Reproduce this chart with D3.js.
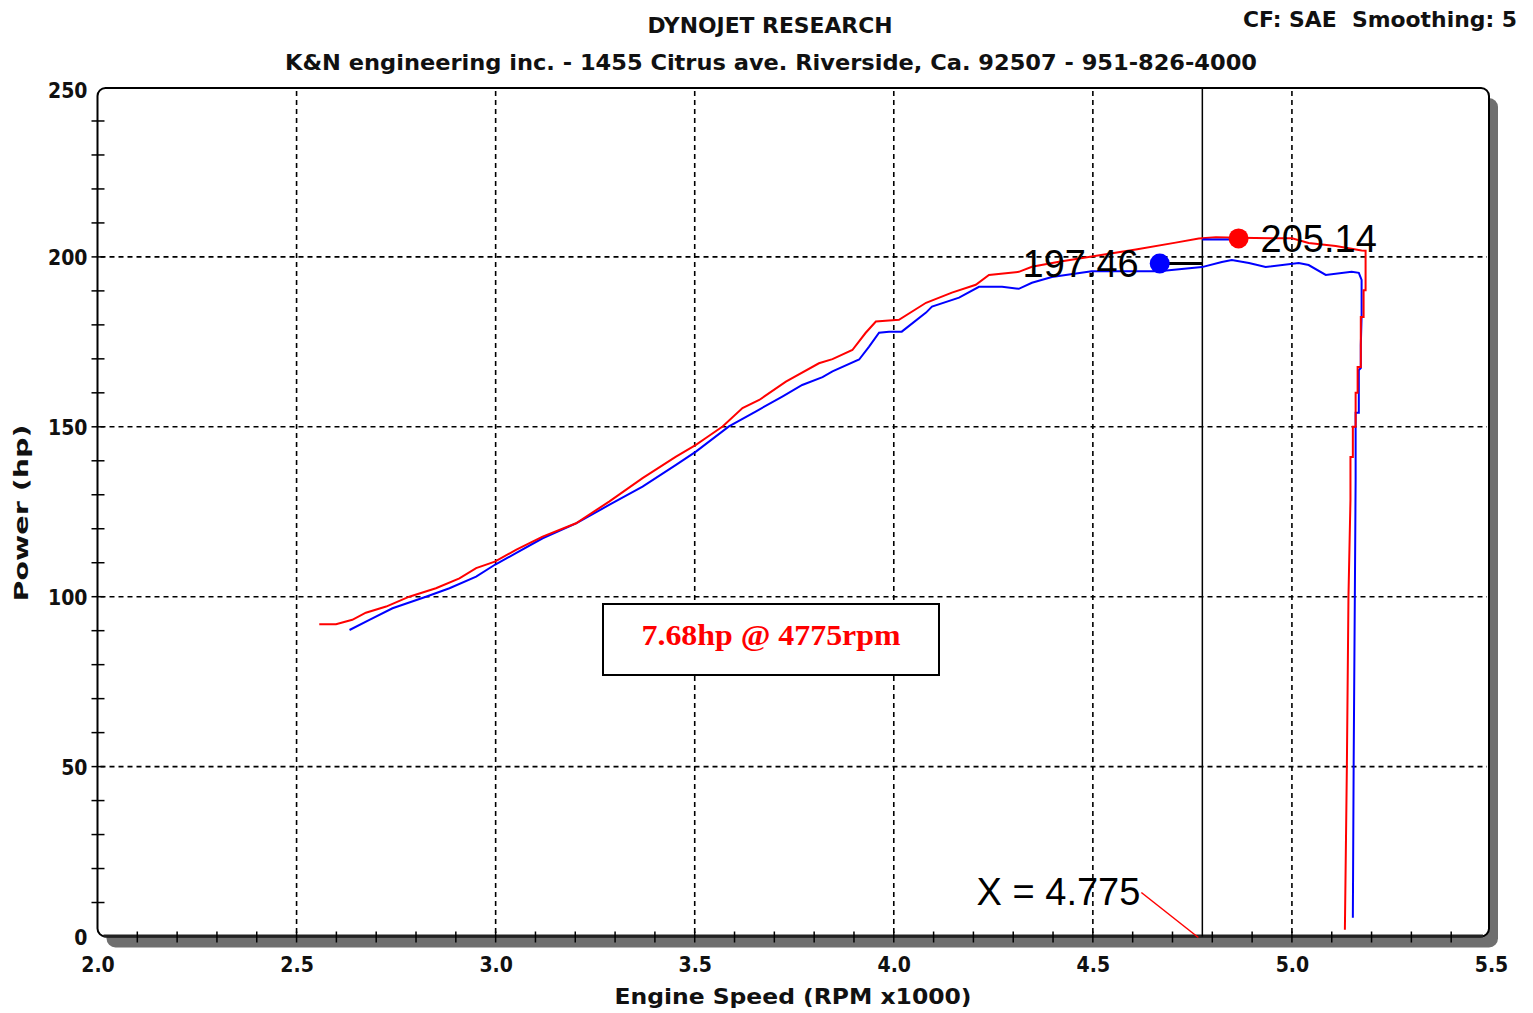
<!DOCTYPE html>
<html>
<head>
<meta charset="utf-8">
<script src="https://cdn.jsdelivr.net/npm/d3@7"></script>
<style>
  body { margin: 0; background: #fff; }
  svg { display: block; }
  .hdr { font-family: "DejaVu Sans Condensed", "DejaVu Sans", sans-serif; font-weight: bold; font-size: 21px; fill: #111; white-space: pre; }
  .tick text { font-family: "DejaVu Sans Condensed", "DejaVu Sans", sans-serif; font-weight: bold; font-size: 21px; fill: #111; }
  .peak { font-family: "Liberation Sans", Arial, sans-serif; font-size: 38px; fill: #000; }
</style>
</head>
<body>
<div id="chart"></div>
<script>
// dyno sheet: power (hp) vs engine speed, stock vs K&N intake

var rpmTicks = [2.0, 2.5, 3.0, 3.5, 4.0, 4.5, 5.0, 5.5];
var rpmTickLabels = ["2.0", "2.5", "3.0", "3.5", "4.0", "4.5", "5.0", "5.5"];
var hpTicks = [0, 50, 100, 150, 200, 250];
var hpTickLabels = ["0", "50", "100", "150", "200", "250"];

// red run (K&N)
var knRpm = [2.557, 2.599, 2.640, 2.674, 2.725, 2.783, 2.850, 2.909, 2.951, 2.998,
  3.051, 3.118, 3.202, 3.285, 3.369, 3.453, 3.503, 3.528, 3.570, 3.620,
  3.662, 3.729, 3.812, 3.846, 3.896, 3.929, 3.955, 3.988, 4.013, 4.081,
  4.146, 4.206, 4.239, 4.314, 4.347, 4.415, 4.497, 4.608, 4.708, 4.766,
  4.809, 4.866, 4.950, 5.000, 5.042, 5.110, 5.175, 5.185,
  5.185, 5.180, 5.180, 5.173, 5.173, 5.165, 5.165, 5.160, 5.160, 5.153,
  5.153, 5.147, 5.147, 5.142, 5.138, 5.133];
var knHp = [91.9, 91.9, 93.2, 95.3, 97.1, 100.0, 102.5, 105.4, 108.4, 110.3,
  113.8, 117.7, 121.6, 128.0, 134.9, 141.2, 144.7, 146.7, 150.1, 155.5,
  157.9, 163.3, 168.7, 169.9, 172.6, 177.6, 181.0, 181.3, 181.5, 186.5,
  189.5, 191.8, 194.7, 195.6, 197.1, 198.6, 200.1, 202.2, 204.2, 205.4,
  205.8, 205.6, 205.5, 205.5, 204.1, 203.2, 201.9, 201.8,
  190.2, 190.2, 182.3, 182.3, 167.6, 167.6, 160.0, 160.0, 150.0, 150.0,
  141.1, 141.1, 128.5, 100.0, 50.0, 2.0];

// blue run (stock)
var stockRpm = [2.633, 2.683, 2.741, 2.825, 2.884, 2.951, 2.998, 3.051, 3.118, 3.202,
  3.285, 3.369, 3.453, 3.503, 3.586, 3.653, 3.720, 3.770, 3.821, 3.846,
  3.913, 3.938, 3.963, 3.988, 4.020, 4.081, 4.096, 4.164, 4.214, 4.272,
  4.314, 4.347, 4.397, 4.497, 4.608, 4.666, 4.774, 4.824, 4.849, 4.892,
  4.934, 5.017, 5.042, 5.085, 5.150, 5.168, 5.175,
  5.175, 5.173, 5.173, 5.168, 5.168, 5.160, 5.160, 5.158, 5.155, 5.153];
var stockHp = [90.2, 93.2, 96.6, 100.0, 102.5, 105.9, 109.4, 112.8, 117.2, 121.6,
  127.0, 132.4, 138.8, 142.7, 150.1, 154.5, 158.9, 162.3, 164.6, 166.3,
  169.8, 173.6, 177.7, 178.0, 178.0, 183.6, 185.4, 188.0, 191.2, 191.2,
  190.6, 192.4, 194.1, 195.8, 195.8, 195.8, 197.0, 198.5, 199.1, 198.2,
  197.0, 198.2, 197.6, 194.7, 195.6, 195.3, 193.2,
  182.3, 174.1, 167.3, 166.7, 154.1, 154.1, 134.4, 100.0, 50.0, 5.5];

var peakLabels = ["205.14", "197.46"];
var peakRpm = [4.866, 4.668];
var peakHp = [205.14, 197.46];
var cursorRpm = 4.775;
var cursorLabel = "X = 4.775";
var gainLabel = "7.68hp @ 4775rpm";

var width = 1533, height = 1013;
var plotLeft = 97.5, plotRight = 1491, plotTop = 87, plotBottom = 936.5;

var x = d3.scaleLinear().domain([2.0, 5.5]).range([plotLeft, plotRight]);
var y = d3.scaleLinear().domain([0, 250]).range([plotBottom, plotTop]);

var svg = d3.select("#chart").append("svg")
  .attr("width", width)
  .attr("height", height);

// frame with drop shadow
svg.append("rect")
  .attr("x", plotLeft + 9)
  .attr("y", plotTop + 11)
  .attr("width", plotRight - plotLeft - 2)
  .attr("height", plotBottom - plotTop)
  .attr("rx", 9)
  .attr("fill", "#6f6f6f");

svg.append("rect")
  .attr("x", plotLeft)
  .attr("y", plotTop + 1)
  .attr("width", plotRight - plotLeft - 2)
  .attr("height", plotBottom - plotTop - 1)
  .attr("rx", 8)
  .attr("fill", "#fff")
  .attr("stroke", "#000")
  .attr("stroke-width", 2);

svg.append("line")
  .attr("x1", plotLeft + 6).attr("x2", plotRight - 8)
  .attr("y1", plotBottom - 0.5).attr("y2", plotBottom - 0.5)
  .attr("stroke", "#222")
  .attr("stroke-width", 3);

svg.append("clipPath")
  .attr("id", "plotClip")
.append("rect")
  .attr("x", plotLeft)
  .attr("y", plotTop)
  .attr("width", plotRight - plotLeft - 2)
  .attr("height", plotBottom - plotTop);

// dashed grid
var grid = svg.append("g")
  .attr("stroke", "#000")
  .attr("stroke-width", 1.6)
  .attr("stroke-dasharray", "5,4");

grid.selectAll(".vgrid")
  .data(rpmTicks.slice(1, -1))
  .enter()
  .append("line")
  .attr("class", "vgrid")
  .attr("x1", d => x(d)).attr("x2", d => x(d))
  .attr("y1", plotTop + 4).attr("y2", plotBottom - 2);

grid.selectAll(".hgrid")
  .data(hpTicks.slice(1, -1))
  .enter()
  .append("line")
  .attr("class", "hgrid")
  .attr("x1", plotLeft + 3).attr("x2", plotRight - 4)
  .attr("y1", d => y(d)).attr("y2", d => y(d));

// minor ticks on both axes
var minorX = d3.range(21, 55).map(d => d / 10);
var minorY = d3.range(10, 250, 10);

svg.append("g")
  .selectAll("line")
  .data(minorX)
  .enter()
  .append("line")
  .attr("x1", d => x(d)).attr("x2", d => x(d))
  .attr("y1", plotBottom - 5).attr("y2", plotBottom + 6)
  .attr("stroke", "#000")
  .attr("stroke-width", 1.5);

svg.append("g")
  .selectAll("line")
  .data(minorY)
  .enter()
  .append("line")
  .attr("x1", plotLeft - 6).attr("x2", plotLeft + 7)
  .attr("y1", d => y(d)).attr("y2", d => y(d))
  .attr("stroke", "#000")
  .attr("stroke-width", 1.5);

// tick labels through d3 axes
var xAxis = svg.append("g")
  .attr("transform", `translate(0, ${plotBottom})`)
  .call(d3.axisBottom(x)
    .tickValues(rpmTicks)
    .tickFormat((d, i) => rpmTickLabels[i])
    .tickSize(0)
    .tickPadding(21));
xAxis.select(".domain").remove();

var yAxis = svg.append("g")
  .attr("transform", `translate(${plotLeft}, 0)`)
  .call(d3.axisLeft(y)
    .tickValues(hpTicks)
    .tickFormat((d, i) => hpTickLabels[i])
    .tickSize(0)
    .tickPadding(10));
yAxis.select(".domain").remove();
yAxis.selectAll(".tick text").attr("dy", "0.38em");
yAxis.select(".tick:last-of-type text").attr("dy", "0.5em");

// cursor
svg.append("line")
  .attr("x1", x(cursorRpm)).attr("x2", x(cursorRpm))
  .attr("y1", plotTop + 1).attr("y2", plotBottom)
  .attr("stroke", "#000")
  .attr("stroke-width", 1.5);

// curves
var line = d3.line()
  .x(d => x(d[0]))
  .y(d => y(d[1]));

var curves = svg.append("g").attr("clip-path", "url(#plotClip)");

curves.append("path")
  .datum(d3.zip(stockRpm, stockHp))
  .attr("d", line)
  .attr("fill", "none")
  .attr("stroke", "#0000ff")
  .attr("stroke-width", 2);

curves.append("path")
  .datum(d3.zip(knRpm, knHp))
  .attr("d", line)
  .attr("fill", "none")
  .attr("stroke", "#ff0000")
  .attr("stroke-width", 2);

// marker leaders to cursor
svg.append("line")
  .attr("x1", x(cursorRpm)).attr("x2", x(peakRpm[0]))
  .attr("y1", y(peakHp[0])).attr("y2", y(peakHp[0]))
  .attr("stroke", "#0000ff")
  .attr("stroke-width", 2);

svg.append("line")
  .attr("x1", x(peakRpm[1])).attr("x2", x(cursorRpm))
  .attr("y1", y(peakHp[1]) - 2).attr("y2", y(peakHp[1]) - 2)
  .attr("stroke", "#000")
  .attr("stroke-width", 3);

var markerFills = ["#ff0000", "#0000ff"];
peakRpm.forEach((r, i) => {
  svg.append("circle")
    .attr("cx", x(r))
    .attr("cy", y(peakHp[i]) - (i == 1 ? 2 : 1))
    .attr("r", 10)
    .attr("fill", markerFills[i]);
});

svg.append("text")
  .attr("class", "peak")
  .attr("x", x(peakRpm[0]) + 22)
  .attr("y", y(peakHp[0]) + 13)
  .text(peakLabels[0]);

svg.append("text")
  .attr("class", "peak")
  .attr("x", x(peakRpm[1]) - 21)
  .attr("y", y(peakHp[1]) + 11)
  .attr("text-anchor", "end")
  .text(peakLabels[1]);

// cursor readout
svg.append("text")
  .attr("class", "peak")
  .attr("x", x(cursorRpm) - 62)
  .attr("y", plotBottom - 32)
  .attr("text-anchor", "end")
  .text(cursorLabel);

svg.append("line")
  .attr("x1", x(cursorRpm) - 61).attr("y1", plotBottom - 44)
  .attr("x2", x(cursorRpm) - 4).attr("y2", plotBottom + 1)
  .attr("stroke", "#ff0000")
  .attr("stroke-width", 1.5);

// gain annotation box
var boxX = 603, boxY = 604, boxW = 336, boxH = 71;
svg.append("rect")
  .attr("x", boxX).attr("y", boxY)
  .attr("width", boxW).attr("height", boxH)
  .attr("fill", "#fff")
  .attr("stroke", "#000")
  .attr("stroke-width", 2);

svg.append("text")
  .attr("x", boxX + boxW / 2)
  .attr("y", boxY + 41)
  .attr("text-anchor", "middle")
  .attr("font-family", "'Liberation Serif', 'Times New Roman', serif")
  .attr("font-weight", "bold")
  .attr("font-size", 30)
  .attr("fill", "#ff0000")
  .attr("textLength", 259)
  .attr("lengthAdjust", "spacingAndGlyphs")
  .text(gainLabel);

// header
svg.append("text")
  .attr("class", "hdr")
  .attr("x", 770).attr("y", 33)
  .attr("text-anchor", "middle")
  .attr("textLength", 245)
  .attr("lengthAdjust", "spacingAndGlyphs")
  .text("DYNOJET RESEARCH");

svg.append("text")
  .attr("class", "hdr")
  .attr("x", 285).attr("y", 70)
  .attr("textLength", 972)
  .attr("lengthAdjust", "spacingAndGlyphs")
  .text("K&N engineering inc. - 1455 Citrus ave. Riverside, Ca. 92507 - 951-826-4000");

svg.append("text")
  .attr("class", "hdr")
  .attr("x", 1243).attr("y", 27)
  .attr("textLength", 274)
  .attr("lengthAdjust", "spacingAndGlyphs")
  .text("CF: SAE  Smoothing: 5");

// axis titles
svg.append("text")
  .attr("class", "hdr")
  .attr("x", 793).attr("y", 1004)
  .attr("text-anchor", "middle")
  .attr("font-size", 23)
  .attr("textLength", 357)
  .attr("lengthAdjust", "spacingAndGlyphs")
  .text("Engine Speed (RPM x1000)");

svg.append("text")
  .attr("transform", "translate(28, 513) rotate(-90)")
  .attr("text-anchor", "middle")
  .attr("font-family", "'DejaVu Sans', Verdana, sans-serif")
  .attr("font-weight", "bold")
  .attr("font-size", 19)
  .attr("fill", "#111")
  .attr("textLength", 177)
  .attr("lengthAdjust", "spacingAndGlyphs")
  .text("Power (hp)");
</script>
</body>
</html>
